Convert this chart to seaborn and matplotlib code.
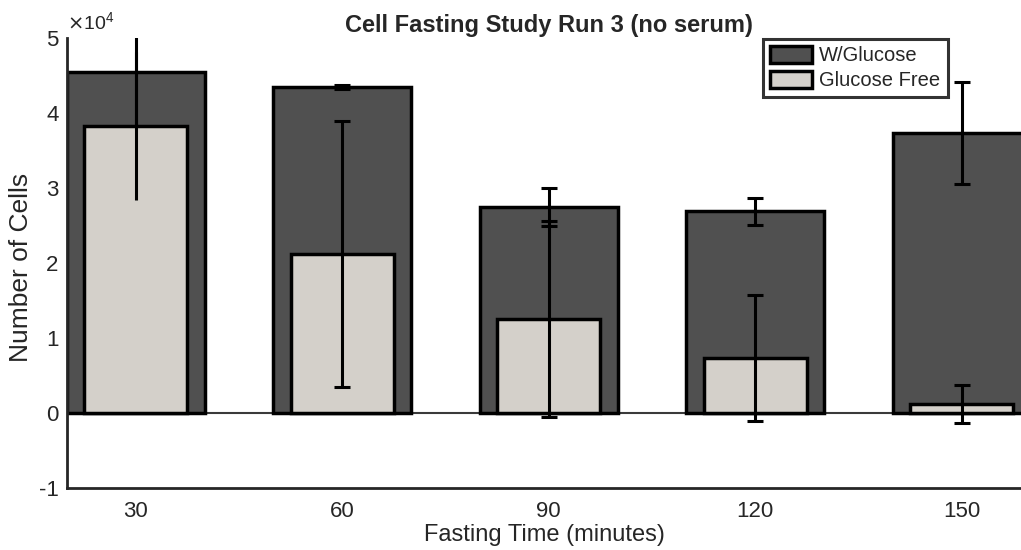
import numpy as np
import pandas as pd
import matplotlib
matplotlib.use("Agg")
import matplotlib.pyplot as plt
import seaborn as sns

# values
times = [30, 60, 90, 120, 150]
glucose_mean = [45470, 43470, 27470, 26930, 37330]
glucose_err = [8000, 300, 2500, 1800, 6800]
free_mean = [38270, 21200, 12530, 7330, 1200]
free_err = [9900, 17700, 13100, 8400, 2500]
ytick_vals = [-10000, 0, 10000, 20000, 30000, 40000, 50000]
ytick_labels = ["-1", "0", "1", "2", "3", "4", "5"]

dark = "#505050"
light = "#d4d0ca"
txt = "#262626"

sns.set_style("white")
plt.rcParams["font.family"] = ["Liberation Sans", "DejaVu Sans"]
plt.rcParams["axes.unicode_minus"] = False

df_glu = pd.DataFrame({"time": times, "cells": glucose_mean})
df_free = pd.DataFrame({"time": times, "cells": free_mean})

fig = plt.figure(figsize=(10.21, 5.5), dpi=100)
ax = fig.add_axes([0.0656, 0.1127, 0.9344, 0.8182])

ax.axhline(0, color="#3a3a3a", lw=1.5, zorder=0.5)

sns.barplot(data=df_glu, x="time", y="cells", native_scale=True, width=2/3,
            color=dark, saturation=1, edgecolor="black", linewidth=2.5,
            errorbar=None, ax=ax, label="W/Glucose", zorder=1)
ax.errorbar(times, glucose_mean, yerr=glucose_err, fmt="none", ecolor="black",
            elinewidth=2.2, capsize=6, capthick=2.2, zorder=2)

sns.barplot(data=df_free, x="time", y="cells", native_scale=True, width=0.5,
            color=light, saturation=1, edgecolor="black", linewidth=2.5,
            errorbar=None, ax=ax, label="Glucose Free", zorder=3)
# the 30 min glucose-free bar has no caps in the original
free_caps = [0, 6, 6, 6, 6]
for t, m, e, c in zip(times, free_mean, free_err, free_caps):
    ax.errorbar([t], [m], yerr=[e], fmt="none", ecolor="black",
                elinewidth=2.2, capsize=c, capthick=2.2, zorder=4)

ax.set_xlim(20, 158.6)
ax.set_ylim(-10000, 50000)
ax.set_xticks(times)
ax.set_xticklabels([str(t) for t in times])
ax.set_yticks(ytick_vals)
ax.set_yticklabels(ytick_labels)
ax.text(0.0, 1.012, r"$\times\mathdefault{10^{4}}$", transform=ax.transAxes,
        fontsize=14, color=txt, ha="left", va="bottom")

for s in ["top", "right"]:
    ax.spines[s].set_visible(False)
for s in ["left", "bottom"]:
    ax.spines[s].set_color(txt)
    ax.spines[s].set_linewidth(2)
ax.tick_params(direction="in", length=7, width=2, labelsize=16, colors=txt)
ax.tick_params(axis="x", pad=9)
ax.tick_params(axis="y", pad=6)

ax.set_title("Cell Fasting Study Run 3 (no serum)", fontsize=17,
             fontweight="bold", pad=4, x=0.505)
ax.set_xlabel("Fasting Time (minutes)", fontsize=17, color=txt, labelpad=2)
ax.set_ylabel("Number of Cells", fontsize=19, color=txt)
ax.yaxis.set_label_coords(-0.036, 0.49)

leg = ax.legend(loc="upper left", bbox_to_anchor=(763 / 1021, 1 - 39 / 550),
                bbox_transform=fig.transFigure, fontsize=14.5, frameon=True,
                fancybox=False, framealpha=1, borderpad=0.35, labelspacing=0.28,
                handlelength=2.1, handleheight=0.9, handletextpad=0.35,
                borderaxespad=0)
leg.get_frame().set_edgecolor("#333333")
leg.get_frame().set_linewidth(2.2)

fig.savefig("out.png", dpi=100)
